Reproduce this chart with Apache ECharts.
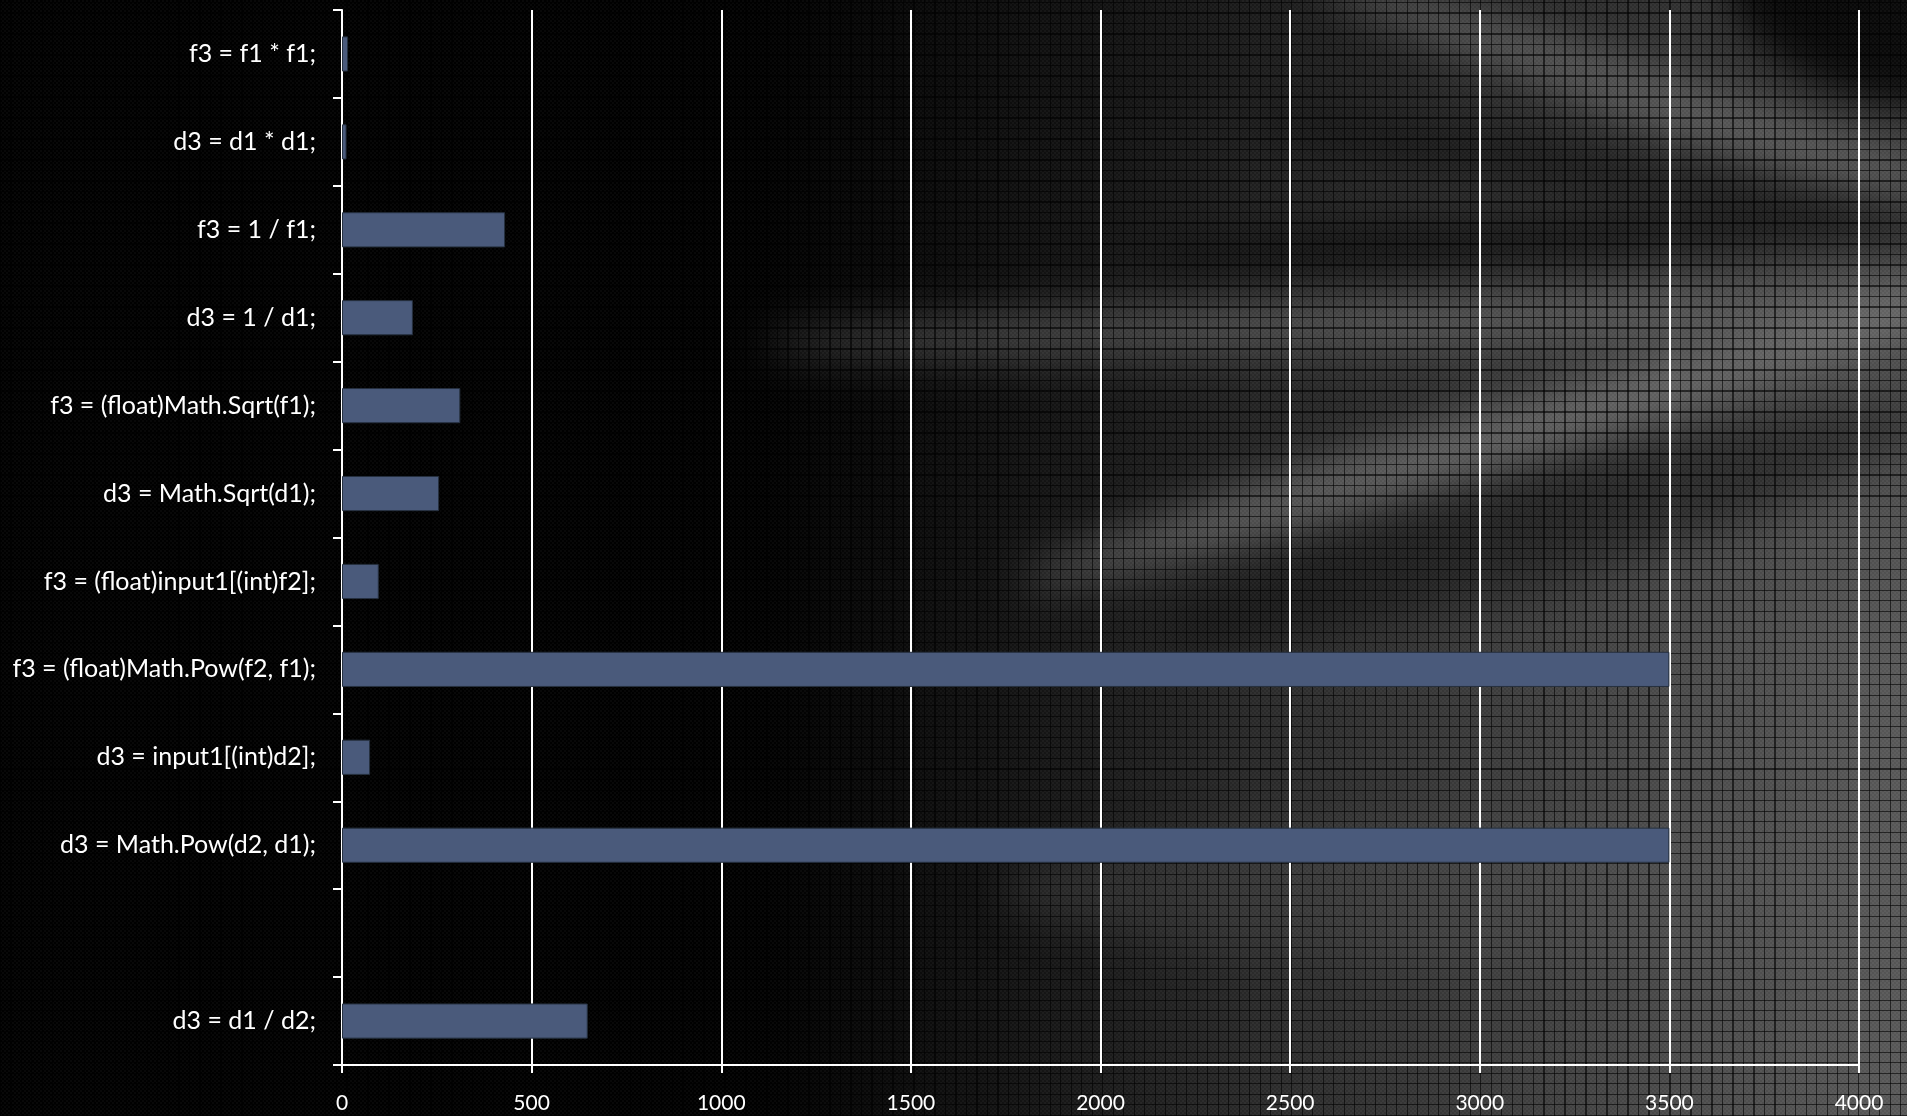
<!DOCTYPE html>
<html>
<head>
<meta charset="utf-8">
<title>Operation timings</title>
<script src="https://cdn.jsdelivr.net/npm/echarts@6/dist/echarts.min.js"></script>
<style>
  html, body { margin: 0; padding: 0; width: 1907px; height: 1116px; overflow: hidden; background: #000; }
  #bg {
    position: absolute; left: 0; top: 0; width: 1907px; height: 1116px; overflow: hidden;
    background:
      linear-gradient(180deg, rgba(0,0,0,0.35) 0%, rgba(0,0,0,0.15) 35%, rgba(0,0,0,0) 60%),
      linear-gradient(90deg, #000 0%, #000 40%, #0b0b0b 48%, #1a1a1a 57%, #2c2c2c 67%, #3d3d3d 78%, #4d4d4d 89%, #5a5a5a 100%);
  }
  #bg .streak { position: absolute; filter: blur(22px); border-radius: 50%; }
  #texture {
    position: absolute; left: 0; top: 0; width: 1907px; height: 1116px;
    background:
      repeating-linear-gradient(90deg, rgba(0,0,0,0.6) 0 1px, transparent 1px 10.5px),
      repeating-linear-gradient(0deg, rgba(0,0,0,0.6) 0 1px, transparent 1px 10.5px),
      repeating-conic-gradient(rgba(255,255,255,0.03) 0 25%, rgba(0,0,0,0.03) 0 50%) 0 0 / 4px 4px;
  }
  #chart { position: absolute; left: 0; top: 0; width: 1907px; height: 1116px; }
</style>
</head>
<body>
<div id="bg">
  <!-- soft light and shadow bands fanning out to the upper right of the backdrop -->
  <div class="streak" style="left:1000px;top:400px;width:1050px;height:60px;background:rgba(130,130,130,0.6);transform:rotate(-17deg);"></div>
  <div class="streak" style="left:760px;top:295px;width:1250px;height:55px;background:rgba(120,120,120,0.5);transform:rotate(-2deg);"></div>
  <div class="streak" style="left:1150px;top:215px;width:850px;height:45px;background:rgba(0,0,0,0.6);transform:rotate(-3deg);"></div>
  <div class="streak" style="left:1300px;top:70px;width:700px;height:55px;background:rgba(130,130,130,0.5);transform:rotate(20deg);"></div>
  <div class="streak" style="left:1250px;top:150px;width:700px;height:40px;background:rgba(0,0,0,0.5);transform:rotate(8deg);"></div>
  <div class="streak" style="left:1720px;top:-70px;width:300px;height:170px;background:rgba(0,0,0,0.85);transform:rotate(20deg);"></div>
  <div class="streak" style="left:1150px;top:470px;width:800px;height:110px;background:rgba(0,0,0,0.35);transform:rotate(-16deg);"></div>
  <div class="streak" style="left:1000px;top:820px;width:1000px;height:140px;background:rgba(90,90,90,0.3);transform:rotate(0deg);"></div>
</div>
<div id="texture"></div>
<div id="chart"></div>
<script>
// Statements timed, top to bottom; the blank entry leaves an empty row.
const categories = [
  'f3 = f1 * f1;',
  'd3 = d1 * d1;',
  'f3 = 1 / f1;',
  'd3 = 1 / d1;',
  'f3 = (float)Math.Sqrt(f1);',
  'd3 = Math.Sqrt(d1);',
  'f3 = (float)input1[(int)f2];',
  'f3 = (float)Math.Pow(f2, f1);',
  'd3 = input1[(int)d2];',
  'd3 = Math.Pow(d2, d1);',
  '',
  'd3 = d1 / d2;'
];
const timings = [16, 12, 430, 187, 312, 256, 97, 3500, 74, 3500, null, 648];
const xMin = 0;
const xMax = 4000;
const xStep = 500;

const chart = echarts.init(document.getElementById('chart'), null, { renderer: 'canvas' });
chart.setOption({
  backgroundColor: 'transparent',
  animation: false,
  grid: { left: 342, right: 48, top: 10, bottom: 51, containLabel: false },
  xAxis: {
    type: 'value',
    min: xMin, max: xMax, interval: xStep,
    axisLine: { show: true, lineStyle: { color: '#ffffff', width: 2 } },
    axisTick: { show: true, length: 8, lineStyle: { color: '#ffffff', width: 2 } },
    axisLabel: {
      color: '#ffffff', fontFamily: 'Lato', fontSize: 21, margin: 28,
      formatter: v => String(v)
    },
    splitLine: { show: true, lineStyle: { color: '#ffffff', width: 2 } }
  },
  yAxis: {
    type: 'category',
    inverse: true,
    data: categories,
    axisLine: { show: true, lineStyle: { color: '#ffffff', width: 2 } },
    axisTick: { show: true, length: 9, alignWithLabel: false, lineStyle: { color: '#ffffff', width: 2 } },
    axisLabel: { color: '#ffffff', fontFamily: 'Lato', fontSize: 25, margin: 26 },
    splitLine: { show: false }
  },
  series: [{
    type: 'bar',
    data: timings,
    barCategoryGap: '60%',
    itemStyle: { color: '#4a5a7b', borderColor: '#26303f', borderWidth: 1 }
  }]
});
</script>
</body>
</html>
